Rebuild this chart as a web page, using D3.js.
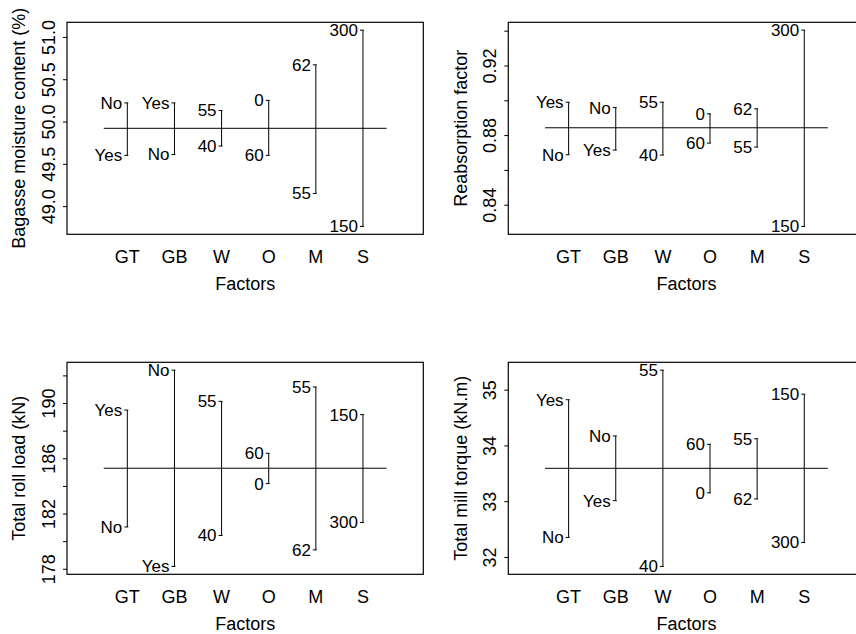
<!DOCTYPE html>
<html>
<head>
<meta charset="utf-8">
<script src="https://cdn.jsdelivr.net/npm/d3@7"></script>
<style>
  body { margin: 0; background: #fff; }
  svg { display: block; font-family: "Liberation Sans", Arial, sans-serif; }
</style>
</head>
<body>
<div id="chart"></div>
<script>
// Factor levels on the x axis
const factors = ["GT", "GB", "W", "O", "M", "S"];

// Bagasse moisture content (%)
const moistureHigh = [50.22, 50.22, 50.13, 50.25, 50.67, 51.08];
const moistureLow = [49.60, 49.61, 49.71, 49.60, 49.15, 48.76];
const moistureHighLabels = ["No", "Yes", "55", "0", "62", "300"];
const moistureLowLabels = ["Yes", "No", "40", "60", "55", "150"];
const moistureMean = 49.92;
const moistureTicks = [49.0, 49.5, 50.0, 50.5, 51.0];
const moistureTickLabels = ["49.0", "49.5", "50.0", "50.5", "51.0"];

// Reabsorption factor
const reabHigh = [0.8989, 0.8958, 0.8989, 0.8922, 0.8951, 0.9403];
const reabLow = [0.8687, 0.8714, 0.8685, 0.8754, 0.8731, 0.8275];
const reabHighLabels = ["Yes", "No", "55", "0", "62", "300"];
const reabLowLabels = ["No", "Yes", "40", "60", "55", "150"];
const reabMean = 0.8842;
const reabTicks = [0.84, 0.86, 0.88, 0.90, 0.92, 0.94];
const reabTickLabels = ["0.84", "", "0.88", "", "0.92", ""];

// Total roll load (kN)
const loadHigh = [189.49, 192.38, 190.12, 186.36, 191.16, 189.16];
const loadLow = [181.03, 178.17, 180.41, 184.17, 179.37, 181.35];
const loadHighLabels = ["Yes", "No", "55", "60", "55", "150"];
const loadLowLabels = ["No", "Yes", "40", "0", "62", "300"];
const loadMean = 185.28;
const loadTicks = [178, 180, 182, 184, 186, 188, 190, 192];
const loadTickLabels = ["178", "", "182", "", "186", "", "190", ""];

// Total mill torque (kN.m)
const torqueHigh = [34.82, 34.17, 35.35, 34.02, 34.12, 34.92];
const torqueLow = [32.35, 33.01, 31.83, 33.15, 33.04, 32.26];
const torqueHighLabels = ["Yes", "No", "55", "60", "55", "150"];
const torqueLowLabels = ["No", "Yes", "40", "0", "62", "300"];
const torqueMean = 33.59;
const torqueTicks = [32, 33, 34, 35];
const torqueTickLabels = ["32", "33", "34", "35"];

const width = 856, height = 634;
const boxW = 356.3, boxH = 212;

const svg = d3.select("#chart")
  .append("svg")
  .attr("width", width)
  .attr("height", height);

// Draw one main-effects panel
function drawPanel(opt) {
  const g = svg.append("g")
    .attr("transform", `translate(${opt.left}, ${opt.top})`);

  // R-style 4% padding around the data range
  const lo = d3.min(opt.low), hi = d3.max(opt.high);
  const pad = (hi - lo) * 0.04;
  const y = d3.scaleLinear()
    .domain([lo - pad, hi + pad])
    .range([boxH, 0]);

  const x = d3.scaleLinear()
    .domain([-0.28, 7.28])
    .range([0, boxW]);

  // y axis
  const yAxis = g.append("g")
    .call(d3.axisLeft(y)
      .tickValues(opt.ticks)
      .tickSize(4)
      .tickFormat((d, i) => opt.tickLabels[i]));
  yAxis.select(".domain").remove();
  yAxis.selectAll("line").attr("stroke", "#000");
  yAxis.selectAll("text")
    .attr("transform", "rotate(-90)")
    .attr("x", 0)
    .attr("y", -18.5)
    .attr("dy", "0.35em")
    .attr("text-anchor", "middle")
    .style("font-size", "18px")
    .style("fill", "#000");

  // axis title
  g.append("text")
    .attr("transform", `translate(-48, ${boxH / 2}) rotate(-90)`)
    .attr("dy", "0.35em")
    .attr("text-anchor", "middle")
    .style("font-size", "18px")
    .text(opt.title);

  // factor labels
  g.selectAll(".factor")
    .data(factors)
    .enter()
    .append("text")
    .attr("class", "factor")
    .attr("x", (d, i) => x(i + 1))
    .attr("y", boxH + 22.5)
    .attr("dy", "0.35em")
    .attr("text-anchor", "middle")
    .style("font-size", "18px")
    .text(d => d);

  g.append("text")
    .attr("x", x(3.5))
    .attr("y", boxH + 49)
    .attr("dy", "0.35em")
    .attr("text-anchor", "middle")
    .style("font-size", "18px")
    .text("Factors");

  // grand mean line
  g.append("line")
    .attr("x1", x(0.5))
    .attr("x2", x(6.5))
    .attr("y1", y(opt.mean))
    .attr("y2", y(opt.mean))
    .attr("stroke", "#000");

  // vertical ranges
  const bars = g.selectAll(".bar")
    .data(factors.map((f, i) => ({
      i, hi: opt.high[i], lo: opt.low[i],
      hiLab: opt.highLabels[i], loLab: opt.lowLabels[i]
    })))
    .enter()
    .append("g")
    .attr("class", "bar");

  bars.append("line")
    .attr("x1", d => x(d.i + 1))
    .attr("x2", d => x(d.i + 1))
    .attr("y1", d => y(d.hi))
    .attr("y2", d => y(d.lo))
    .attr("stroke", "#000");

  // small end caps
  ["hi", "lo"].forEach(k => {
    bars.append("line")
      .attr("x1", d => x(d.i + 1) - 3)
      .attr("x2", d => x(d.i + 1) + 1)
      .attr("y1", d => y(d[k]))
      .attr("y2", d => y(d[k]))
      .attr("stroke", "#000");

    bars.append("text")
      .attr("x", d => x(d.i + 1) - 5)
      .attr("y", d => y(d[k]))
      .attr("dy", "0.35em")
      .attr("text-anchor", "end")
      .style("font-size", "17px")
      .text(d => d[k + "Lab"]);
  });

  // plot box
  g.append("rect")
    .attr("width", boxW)
    .attr("height", boxH)
    .attr("fill", "none")
    .attr("stroke", "#000")
    .attr("stroke-width", 1.2);
}

drawPanel({
  left: 67, top: 22.3, title: "Bagasse moisture content (%)",
  high: moistureHigh, low: moistureLow,
  highLabels: moistureHighLabels, lowLabels: moistureLowLabels,
  mean: moistureMean, ticks: moistureTicks, tickLabels: moistureTickLabels
});

drawPanel({
  left: 508.3, top: 22.3, title: "Reabsorption factor",
  high: reabHigh, low: reabLow,
  highLabels: reabHighLabels, lowLabels: reabLowLabels,
  mean: reabMean, ticks: reabTicks, tickLabels: reabTickLabels
});

drawPanel({
  left: 67, top: 362.3, title: "Total roll load (kN)",
  high: loadHigh, low: loadLow,
  highLabels: loadHighLabels, lowLabels: loadLowLabels,
  mean: loadMean, ticks: loadTicks, tickLabels: loadTickLabels
});

drawPanel({
  left: 508.3, top: 362.3, title: "Total mill torque (kN.m)",
  high: torqueHigh, low: torqueLow,
  highLabels: torqueHighLabels, lowLabels: torqueLowLabels,
  mean: torqueMean, ticks: torqueTicks, tickLabels: torqueTickLabels
});
</script>
</body>
</html>
